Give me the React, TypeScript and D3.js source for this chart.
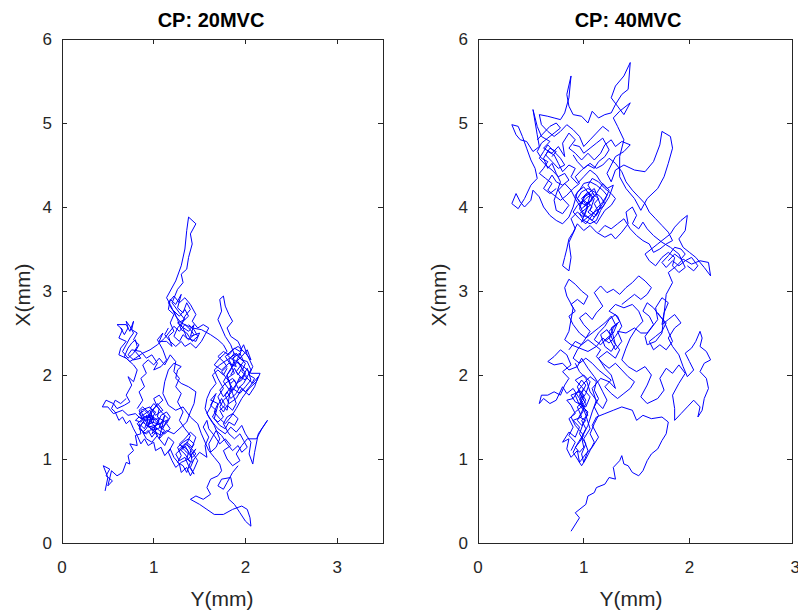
import React from "react";
import * as d3 from "d3";

// centre-of-pressure traces, [Y(mm), X(mm)]
const cp20Main: [number, number][] = [
  [0.47,0.62],[0.50,0.78],[0.45,0.92],[0.52,0.88],[0.48,0.80],[0.55,0.74],[0.50,0.68],[0.54,0.86],[0.60,0.80],[0.66,0.84],
  [0.70,0.96],[0.74,0.94],[0.72,1.04],[0.78,1.10],[0.74,1.18],[0.82,1.16],[0.80,1.28],[0.86,1.30],[0.84,1.42],[0.90,1.36],
  [0.94,1.48],[0.88,1.52],[0.96,1.58],[1.00,1.44],[0.92,1.40],[1.04,1.36],[0.98,1.30],[1.06,1.48],[0.90,1.46],[0.86,1.58],
  [0.96,1.62],[1.02,1.52],[1.10,1.58],[1.04,1.66],[0.98,1.56],[0.94,1.38],[1.08,1.42],[1.12,1.52],[1.06,1.24],[1.00,1.34],
  [0.88,1.44],[0.84,1.36],[0.92,1.30],[1.02,1.40],[1.14,1.46],[1.10,1.36],[0.98,1.50],[0.86,1.48],[0.80,1.54],[0.72,1.52],
  [0.66,1.58],[0.56,1.54],[0.50,1.62],[0.44,1.62],[0.48,1.70],[0.56,1.66],[0.60,1.60],[0.68,1.64],[0.74,1.68],[0.70,1.76],
  [0.76,1.88],[0.72,1.98],[0.78,1.92],[0.82,2.06],[0.78,2.12],[0.70,2.20],[0.62,2.24],[0.64,2.32],[0.70,2.40],[0.62,2.44],
  [0.66,2.54],[0.60,2.60],[0.70,2.60],[0.74,2.52],[0.78,2.64],[0.76,2.54],[0.82,2.50],[0.78,2.42],[0.84,2.36],[0.80,2.28],
  [0.86,2.20],[0.78,2.18],[0.72,2.24],[0.76,2.30],[0.86,2.28],[0.92,2.20],[0.98,2.24],[1.04,2.14],[1.00,2.06],[1.08,2.10],
  [1.14,2.18],[1.10,2.30],[1.04,2.42],[1.10,2.50],[1.06,2.40],[1.14,2.40],[1.20,2.34],[1.16,2.46],[1.22,2.52],[1.18,2.62],
  [1.22,2.72],[1.16,2.78],[1.18,2.90],[1.24,2.84],[1.30,2.96],[1.26,2.80],[1.32,2.74],[1.36,2.86],[1.40,2.78],[1.34,2.70],
  [1.30,2.58],[1.38,2.52],[1.44,2.60],[1.40,2.46],[1.50,2.50],[1.46,2.40],[1.36,2.44],[1.32,2.56],[1.26,2.62],[1.34,2.66],
  [1.28,2.74],[1.20,2.86],[1.26,3.02],[1.32,3.10],[1.30,3.20],[1.36,3.26],[1.38,3.40],[1.42,3.56],[1.40,3.68],[1.46,3.80],
  [1.38,3.88],[1.36,3.72],[1.34,3.50],[1.30,3.30],[1.24,3.12],[1.14,2.92],[1.18,2.84],[1.24,2.70],[1.30,2.62],[1.42,2.56],
  [1.52,2.54],[1.62,2.48],[1.70,2.42],
  [1.76,2.36],[1.80,2.28],[1.72,2.20],[1.66,2.12],[1.74,2.06],[1.82,2.14],[1.90,2.10],[1.86,2.20],[1.94,2.26],[1.98,2.16],
  [1.90,2.04],[1.96,1.96],[2.02,2.08],[2.06,1.94],[2.00,1.86],[1.94,1.78],[1.86,1.84],[1.80,1.96],[1.88,2.02],[1.84,2.12],
  [1.78,2.22],[1.86,2.30],[1.92,2.34],[2.00,2.26],[2.06,2.18],[2.02,2.30],[1.96,2.22],[1.88,2.14],[1.82,2.04],[1.76,1.92],
  [1.84,1.80],[1.92,1.92],[1.98,2.00],[2.08,1.90],[2.14,1.98],[2.10,1.86],[2.04,1.76],[1.96,1.84],[1.90,1.72],[1.82,1.66],
  [1.78,1.76],[1.84,1.86],[1.80,1.58],[1.74,1.64],[1.70,1.74],[1.76,1.84],[1.70,1.96],[1.66,2.06],[1.72,2.12],[1.80,2.18],
  [1.88,2.24],[1.84,2.36],[1.78,2.46],[1.74,2.56],[1.70,2.66],[1.74,2.76],[1.72,2.90],[1.76,2.94],[1.78,2.82],[1.82,2.72],
  [1.86,2.64],[1.80,2.56],[1.84,2.46],[1.92,2.40],[1.96,2.30],[1.90,2.16],[1.98,2.10],[2.06,2.02],[2.16,2.02],[2.12,1.92],
  [2.04,1.84],[1.96,1.72],[1.90,1.60],[1.84,1.50],[1.78,1.42],[1.72,1.48],[1.66,1.56],[1.70,1.66],[1.62,1.70],[1.68,1.78],
  [1.62,1.62],[1.58,1.54],[1.64,1.44],[1.70,1.36],[1.78,1.30],[1.84,1.38],[1.90,1.32],[1.96,1.40],[2.00,1.30],[2.06,1.20],
  [2.04,1.06],[2.08,0.94],[2.10,1.08],[2.14,1.30],[2.24,1.46],[2.18,1.36],[2.12,1.24],[2.02,1.24],[1.96,1.16],[1.90,1.06],
  [1.94,0.98],[1.86,0.92],[1.80,1.00],[1.76,1.10],[1.84,1.16],[1.78,1.24],[1.72,1.18],[1.66,1.28],[1.60,1.36],[1.58,1.46],
  [1.54,1.38],[1.60,1.26],[1.56,1.16],[1.58,1.02],
  [1.50,1.08],[1.44,1.00],[1.40,0.90],[1.44,0.82],[1.38,0.92],[1.34,1.02],[1.28,0.98],[1.24,1.06],[1.30,1.12],[1.36,1.20],
  [1.42,1.14],[1.46,1.26],[1.40,1.32],[1.34,1.24],[1.28,1.18],[1.34,1.10],[1.40,1.04],[1.46,1.12],[1.38,1.00],[1.30,0.96],
  [1.24,0.90],[1.20,0.98],[1.16,1.08],[1.22,1.20],[1.16,1.26],[1.12,1.16],[1.06,1.24],[1.14,1.34],[1.22,1.30],[1.30,1.38],
  [1.36,1.44],[1.40,1.56],[1.44,1.66],[1.46,1.80],[1.38,1.86],[1.30,1.90],[1.24,1.96],[1.26,2.06],[1.30,2.10],[1.22,2.14],
  [1.16,2.06],[1.12,1.92],[1.10,1.78],[1.16,1.64],[1.24,1.58],[1.32,1.62],[1.40,1.50],[1.48,1.42],[1.52,1.30],[1.56,1.20],
  [1.60,1.10],[1.66,1.02],[1.72,0.94],
  [1.74,0.86],[1.70,0.80],[1.62,0.76],[1.58,0.66],[1.62,0.58],[1.54,0.52],[1.46,0.56],[1.40,0.52],[1.50,0.46],[1.58,0.40],
  [1.66,0.34],[1.76,0.34],[1.86,0.40],[1.96,0.44],[2.02,0.40],[2.05,0.30],[2.06,0.20],[2.00,0.26],[1.94,0.36],[1.88,0.46],
  [1.82,0.52],[1.80,0.60],[1.86,0.68],[1.84,0.78],[1.74,0.76],[1.70,0.68],[1.76,0.64],[1.80,0.72],[1.86,0.84],[1.92,0.92],
];

const cp20ClusterA: [number, number][] = [
  [0.86,1.40],[0.90,1.46],[0.94,1.42],[0.92,1.52],[0.98,1.48],[1.02,1.56],[0.96,1.60],[1.00,1.66],[1.06,1.60],[1.04,1.50],
  [1.10,1.46],[1.06,1.38],[1.12,1.34],[1.08,1.28],[1.02,1.32],[0.98,1.26],[0.94,1.34],[0.90,1.30],[0.86,1.36],[0.82,1.42],
  [0.88,1.48],[0.84,1.54],[0.90,1.58],[0.94,1.54],[0.98,1.44],[1.04,1.42],[1.08,1.52],[1.14,1.56],[1.18,1.50],[1.14,1.42],
  [1.18,1.36],[1.12,1.30],[1.06,1.34],[1.00,1.40],[0.96,1.46],[0.92,1.36],[0.88,1.32],[0.92,1.24],[0.98,1.20],[1.04,1.28],
  [1.00,1.38],[1.06,1.44],[1.02,1.48],[0.96,1.52],[0.90,1.50],[0.86,1.44],[0.80,1.46],[0.84,1.50],[0.92,1.46],[0.98,1.58],
  [1.04,1.64],[1.10,1.70],[1.06,1.76],[1.00,1.72],[1.04,1.62],[1.10,1.54],[1.16,1.48],[1.12,1.40],[1.04,1.36],[0.98,1.34],
  [0.94,1.40],[1.00,1.50],[0.94,1.56],[0.88,1.62],[0.84,1.58],[0.90,1.42],
];

const cp20ClusterB: [number, number][] = [
  [1.84,2.00],[1.88,2.08],[1.92,2.00],[1.96,2.08],[1.92,2.16],[1.86,2.10],[1.82,2.18],[1.88,2.26],[1.94,2.20],[2.00,2.14],
  [1.96,2.04],[2.02,1.98],[1.98,1.90],[1.92,1.84],[1.88,1.94],[1.84,1.90],[1.78,1.98],[1.74,2.04],[1.80,2.10],[1.76,2.16],
  [1.70,2.22],[1.76,2.28],[1.82,2.24],[1.88,2.32],[1.94,2.28],[1.98,2.36],[2.02,2.24],[2.08,2.10],[2.04,2.00],[2.10,1.96],
  [2.06,1.88],[2.00,1.80],[1.94,1.86],[1.90,1.78],[1.84,1.72],[1.80,1.80],[1.76,1.74],[1.72,1.82],[1.78,1.90],[1.86,1.96],
  [1.90,1.90],[1.96,1.94],[2.00,2.02],[1.94,2.12],[1.88,2.18],[1.84,2.06],[1.80,2.00],[1.86,1.78],[1.90,1.66],[1.86,1.58],
  [1.80,1.64],[1.76,1.56],[1.72,1.62],[1.76,1.70],[1.82,1.76],[1.88,1.84],[1.94,1.98],[2.00,1.94],[2.06,2.06],[2.02,2.16],
  [1.96,2.18],[1.90,2.26],[1.86,2.18],[1.80,2.24],
];

const cp20Upper: [number, number][] = [
  [0.64,2.56],[0.68,2.48],[0.72,2.56],[0.70,2.64],[0.74,2.58],[0.78,2.50],[0.74,2.44],[0.70,2.36],[0.66,2.28],[0.72,2.20],
  [0.78,2.26],[0.82,2.34],[0.80,2.42],[0.76,2.38],[0.72,2.32],[0.68,2.22],[0.74,2.16],[0.80,2.20],[0.88,2.26],[0.96,2.30],
  [1.04,2.36],[1.12,2.44],[1.22,2.58],[1.28,2.52],[1.34,2.60],[1.40,2.54],[1.44,2.48],[1.38,2.42],[1.32,2.48],[1.28,2.40],
  [1.22,2.46],[1.26,2.56],[1.32,2.64],[1.38,2.70],[1.34,2.78],[1.28,2.70],[1.22,2.76],[1.26,2.66],[1.30,2.54],[1.36,2.50],
  [1.42,2.40],[1.48,2.46],[1.44,2.54],[1.38,2.60],
];

const cp20ClusterC: [number, number][] = [
  [1.30,1.10],[1.34,1.16],[1.38,1.08],[1.36,1.00],[1.42,0.96],[1.40,1.10],[1.44,1.18],[1.38,1.24],[1.32,1.20],[1.26,1.14],
  [1.30,1.04],[1.26,0.96],[1.32,0.92],[1.36,0.84],[1.40,0.96],[1.34,1.06],[1.28,1.12],[1.34,1.18],[1.40,1.14],[1.46,1.06],
  [1.42,1.02],[1.36,1.12],[1.30,1.16],
];

const cp20Wander1: [number, number][] = [
  [0.82,1.60],[0.88,1.70],[0.84,1.80],[0.90,1.86],[0.86,1.96],[0.92,2.02],[0.88,2.12],[0.94,2.18],[1.00,2.12],[1.06,2.20],
  [1.12,2.12],[1.18,2.24],[1.24,2.16],[1.22,2.04],[1.28,1.96],[1.24,1.86],[1.30,1.78],[1.26,1.68],[1.32,1.56],[1.28,1.46],
  [1.34,1.36],[1.40,1.28],[1.36,1.18],[1.42,1.08],[1.48,0.98],[1.44,0.88],[1.40,0.80],[1.36,0.90],[1.30,0.84],[1.28,0.94],
  [1.22,1.02],[1.18,1.12],[1.12,1.04],[1.08,1.14],[1.02,1.10],[1.00,1.20],[0.94,1.16],[0.90,1.24],[0.86,1.18],[0.82,1.28],
  [0.78,1.36],[0.74,1.46],[0.70,1.42],[0.66,1.50],[0.62,1.46],[0.58,1.56],[0.54,1.60],[0.58,1.70],[0.64,1.66],[0.70,1.72],
];

const cp20Wander2: [number, number][] = [
  [1.66,1.72],[1.62,1.64],[1.68,1.58],[1.64,1.50],[1.70,1.44],[1.76,1.50],[1.72,1.58],[1.78,1.64],[1.74,1.72],[1.70,1.64],
  [1.66,1.48],[1.72,1.40],[1.78,1.36],[1.82,1.44],[1.88,1.40],[1.92,1.48],[1.86,1.54],[1.80,1.50],[1.76,1.42],[1.82,1.30],
  [1.88,1.24],[1.94,1.30],[1.98,1.22],[2.02,1.14],[1.96,1.08],[1.92,1.16],[1.86,1.10],[1.80,1.18],[1.74,1.28],[1.68,1.34],
  [1.64,1.26],[1.60,1.18],[1.62,1.08],[1.68,1.14],[1.72,1.24],[1.66,1.40],[1.60,1.50],[1.56,1.60],[1.58,1.72],[1.62,1.82],
  [1.68,1.90],[1.64,2.00],[1.70,2.06],[1.76,2.00],[1.80,2.08],
];

const cp20Wander3: [number, number][] = [
  [1.16,2.56],[1.12,2.48],[1.18,2.40],[1.24,2.34],[1.30,2.40],[1.34,2.34],[1.40,2.38],[1.46,2.32],[1.52,2.40],[1.56,2.48],
  [1.60,2.56],[1.54,2.60],[1.48,2.56],[1.42,2.64],[1.46,2.72],[1.40,2.84],[1.34,2.92],[1.28,2.86],[1.22,2.94],[1.16,2.86],
  [1.20,2.78],[1.26,2.72],
];

const cp40Main: [number, number][] = [
  [0.88,0.14],[0.96,0.30],[0.92,0.36],[1.02,0.46],[1.04,0.56],[1.10,0.60],[1.12,0.66],[1.20,0.70],[1.24,0.78],[1.30,0.76],
  [1.28,0.90],[1.34,0.98],[1.36,1.04],[1.38,0.94],[1.42,0.92],[1.46,0.84],[1.52,0.80],[1.56,0.86],[1.60,0.98],[1.64,1.06],
  [1.70,1.12],[1.74,1.22],[1.78,1.30],[1.80,1.44],[1.74,1.50],[1.64,1.48],[1.56,1.52],[1.50,1.46],[1.46,1.58],[1.36,1.62],
  [1.28,1.58],[1.20,1.54],[1.12,1.50],[1.08,1.40],[1.14,1.26],[1.08,1.14],[1.02,1.06],[0.96,0.96],[0.94,1.10],[0.88,1.02],
  [0.84,1.12],[0.86,1.24],[0.80,1.20],[0.86,1.32],[0.92,1.26],[0.96,1.38],[0.90,1.46],[0.98,1.50],[0.94,1.62],[1.00,1.70],
  [0.96,1.80],[0.88,1.76],[0.92,1.68],[1.02,1.62],[1.06,1.74],[0.98,1.86],[0.92,1.94],[1.00,2.00],[1.06,1.92],[1.02,1.78],
  [0.96,1.66],[1.04,1.56],[1.00,1.44],[0.96,1.30],[1.02,1.18],[0.98,1.06],[1.00,0.96],[1.04,1.10],[1.00,1.24],[1.06,1.36],
  [1.02,1.52],[0.96,1.72],[0.90,1.84],[0.84,1.78],[0.80,1.86],[0.74,1.70],[0.68,1.66],[0.62,1.72],[0.58,1.66],[0.60,1.76],
  [0.66,1.76],[0.72,1.80],[0.78,1.76],[0.82,1.88],[0.86,1.96],[0.80,2.04],[0.88,2.12],[0.84,2.24],[0.78,2.30],[0.72,2.22],
  [0.66,2.16],[0.72,2.12],[0.80,2.14],[0.86,2.06],[0.94,2.10],[0.98,2.20],[1.04,2.08],[1.10,1.98],[1.14,1.90],[1.18,1.80],
  [1.22,1.70],[1.18,1.60],[1.12,1.68],[1.08,1.84],[1.16,1.96],[1.24,1.92],[1.30,1.84],[1.26,2.00],[1.20,2.08],[1.14,2.20],
  [1.22,2.28],[1.30,2.20],[1.34,2.30],[1.28,2.40],[1.24,2.52],[1.30,2.60],[1.26,2.70],[1.20,2.62],[1.14,2.56],[1.08,2.50],
  [1.02,2.44],[0.96,2.50],[0.90,2.60],[0.86,2.70],[0.92,2.76],[0.88,2.84],[0.94,2.90],[1.00,2.84],[1.04,2.94],[0.98,3.00],
  [0.92,3.08],[0.86,3.14],[0.82,3.04],[0.84,2.94],[0.90,2.80],[0.86,2.52],[0.82,2.42],[0.88,2.36],[0.96,2.32],[1.04,2.28],
  [1.12,2.34],[1.18,2.44],[1.24,2.38],[1.30,2.46],[1.36,2.58],[1.32,2.70],[1.24,2.76],[1.30,2.84],[1.38,2.80],[1.46,2.84],
  [1.52,2.76],[1.56,2.64],[1.50,2.56],[1.44,2.44],[1.40,2.32],[1.36,2.18],[1.42,2.10],[1.50,2.04],[1.58,2.10],[1.64,2.00],
  [1.60,1.88],[1.54,1.74],[1.60,1.66],[1.70,1.72],[1.76,1.82],[1.72,1.96],[1.78,2.08],[1.84,2.02],[1.90,2.12],[1.96,2.02],
  [1.90,1.90],[1.84,1.76],[1.86,1.60],[1.86,1.46],[1.92,1.54],[1.98,1.62],[2.04,1.70],[2.10,1.62],[2.08,1.50],[2.12,1.58],
  [2.14,1.72],[2.18,1.84],[2.16,1.96],[2.10,2.04],[2.14,2.14],[2.20,2.18],[2.16,2.28],[2.10,2.34],[2.12,2.44],[2.10,2.52],
  [2.06,2.40],[2.02,2.32],[1.96,2.26],[2.00,2.16],[2.04,2.06],[1.98,1.98],[1.94,2.10],[1.90,2.24],[1.84,2.34],[1.80,2.44],
  [1.86,2.56],[1.92,2.62],[1.86,2.72],[1.80,2.66],[1.74,2.60],[1.76,2.74],[1.80,2.86],[1.74,2.92],[1.68,2.80],[1.70,2.66],
  [1.64,2.56],[1.58,2.46],[1.60,2.36],[1.68,2.40],[1.74,2.50],[1.78,2.96],[1.84,3.10],[1.80,3.22],[1.88,3.30],[1.94,3.38],
  [2.02,3.32],[2.10,3.36],[2.18,3.34],[2.20,3.18],[2.14,3.28],[2.06,3.40],[2.00,3.46],[1.94,3.52],[1.90,3.62],[1.96,3.72],
  [1.98,3.90],[1.92,3.84],[1.86,3.76],[1.82,3.68],[1.76,3.62],[1.70,3.56],[1.64,3.50],[1.58,3.44],[1.62,3.36],[1.68,3.30],
  [1.74,3.40],[1.80,3.46],[1.86,3.40],[1.84,3.30],[1.90,3.22],[1.96,3.28],[1.90,3.44],[1.82,3.52],[1.74,3.58],[1.66,3.66],
  [1.60,3.74],[1.56,3.82],[1.52,3.74],[1.46,3.80],[1.50,3.90],[1.46,4.00],[1.40,3.94],[1.42,3.80],[1.36,3.70],[1.30,3.62],
  [1.26,3.68],[1.20,3.64],[1.12,3.70],[1.06,3.78],[1.00,3.72],[0.94,3.80],[0.90,3.70],[0.86,3.62],[0.84,3.50],[0.82,3.40],
  [0.80,3.30],[0.86,3.24],[0.88,3.40],[0.86,3.58],[0.92,3.74],[0.88,3.86],[0.94,3.94],[1.00,3.88],[1.04,4.00],[0.98,4.10],
  [1.04,4.18],[1.10,4.10],[1.06,3.96],[1.12,3.90],[1.16,4.02],[1.10,4.22],[1.02,4.14],[0.96,4.02],[1.00,3.92],[1.08,3.84],
  [1.14,3.96],[1.20,4.08],[1.24,4.20],[1.18,4.28],[1.12,4.16],[1.06,4.06],[0.98,3.98],[0.92,4.10],[0.88,4.20],[0.82,4.28],
  [0.76,4.20],[0.80,4.10],[0.86,4.02],[0.80,3.92],[0.74,3.96],[0.72,4.08],[0.78,4.30],[0.74,4.40],[0.70,4.52],[0.66,4.46],
  [0.62,4.58],[0.66,4.66],[0.72,4.62],[0.76,4.52],[0.80,4.42],[0.86,4.50],[0.92,4.46],[0.88,4.36],[0.94,4.28],[1.00,4.36],
  [1.06,4.44],[1.12,4.38],[1.16,4.30],[1.22,4.22],[1.28,4.26],[1.24,4.12],[1.18,4.00],[1.10,3.94],[1.04,3.88],[0.98,3.82],
  [1.02,3.96],[1.06,4.14],[1.00,4.24],[0.94,4.18],[0.90,4.00],[0.86,3.88],[0.80,3.80],[0.74,3.84],[0.68,3.90],[0.62,4.00],
  [0.58,4.12],[0.52,4.20],[0.50,4.08],[0.44,4.00],[0.40,4.06],[0.36,4.16],[0.32,4.04],[0.38,3.98],[0.44,4.10],[0.50,4.26],
  [0.56,4.34],[0.54,4.46],[0.50,4.56],[0.46,4.70],[0.42,4.84],[0.38,4.96],[0.32,4.98],[0.36,4.86],[0.40,4.80],[0.46,4.78],
  [0.52,4.66],[0.58,4.72],[0.56,4.86],[0.52,5.16],[0.56,4.96],[0.60,4.84],[0.68,4.78],[0.62,4.70],[0.70,4.64],[0.76,4.72],
  [0.82,4.60],[0.80,4.76],[0.86,4.88],[0.92,4.80],[0.86,4.70],[0.92,4.64],[0.98,4.56],[1.04,4.64],[1.10,4.56],[1.16,4.64],
  [1.20,4.74],[1.26,4.80],[1.30,4.72],[1.36,4.78],[1.44,4.74],[1.38,4.66],[1.30,4.60],[1.26,4.50],[1.22,4.40],[1.26,4.30],
  [1.30,4.44],[1.38,4.50],[1.48,4.44],[1.58,4.42],[1.66,4.54],[1.72,4.74],[1.74,4.90],[1.82,4.84],[1.84,4.70],[1.80,4.52],
  [1.76,4.36],[1.70,4.22],[1.60,4.10],[1.54,3.96],[1.48,4.10],[1.40,4.22],[1.34,4.36],[1.34,4.60],[1.38,4.80],[1.32,4.96],
  [1.28,5.06],[1.34,5.14],[1.40,5.20],[1.44,5.24],[1.38,5.10],[1.32,5.20],[1.26,5.30],[1.30,5.44],[1.38,5.56],[1.44,5.72],
  [1.42,5.40],[1.36,5.34],[1.30,5.22],[1.26,5.12],[1.20,5.10],[1.14,5.06],[1.08,5.14],[1.04,5.00],[0.98,5.08],[0.90,5.10],
  [0.86,5.20],[0.84,5.34],[0.88,5.56],[0.86,5.30],[0.82,5.12],[0.78,5.04],[0.72,5.06],[0.66,5.08],[0.58,5.10],[0.60,4.98],
  [0.66,4.90],[0.72,4.84],[0.78,4.90],[0.84,4.98],[0.90,4.92],[0.96,4.84],[1.00,4.72],[1.06,4.80],[1.12,4.88],[1.18,4.96],
  [1.24,4.90],
];

const cp40UpperCluster: [number, number][] = [
  [1.00,4.00],[1.04,4.06],[1.08,4.00],[1.04,3.94],[1.10,3.88],[1.14,3.94],[1.10,4.04],[1.14,4.10],[1.08,4.16],[1.02,4.10],
  [0.98,4.04],[0.94,4.10],[0.98,4.18],[1.04,4.22],[1.10,4.18],[1.16,4.12],[1.20,4.04],[1.16,3.96],[1.12,3.84],[1.06,3.80],
  [1.00,3.84],[0.96,3.92],[1.02,3.98],[1.06,4.02],[1.00,4.08],[0.94,4.02],[0.90,3.94],[0.96,3.86],[1.02,3.80],[1.08,3.90],
  [1.12,3.98],[1.18,4.06],[1.22,4.14],[1.18,4.20],[1.12,4.26],[1.06,4.30],[1.00,4.28],[0.96,4.20],[0.92,4.14],[0.96,4.06],
  [1.02,4.02],[1.08,4.08],[1.06,4.16],[1.00,4.12],[0.96,3.98],[1.00,3.90],[1.06,3.86],[1.12,3.80],[1.16,3.88],[1.20,3.96],
  [1.26,4.02],[1.30,4.10],[1.26,4.16],[1.20,4.22],[1.14,4.30],[1.08,4.34],[1.04,4.26],[1.10,4.14],[1.04,4.04],
];

const cp40UpperLeft: [number, number][] = [
  [0.70,4.60],[0.74,4.66],[0.68,4.70],[0.64,4.62],[0.70,4.54],[0.76,4.46],[0.82,4.50],[0.78,4.58],[0.72,4.66],[0.66,4.74],
  [0.62,4.66],[0.58,4.58],[0.64,4.50],[0.70,4.44],[0.76,4.36],[0.82,4.40],[0.86,4.32],[0.80,4.26],[0.74,4.30],[0.70,4.38],
  [0.66,4.30],[0.62,4.22],[0.68,4.16],[0.74,4.22],
];

const cp40Middle: [number, number][] = [
  [1.20,2.40],[1.26,2.46],[1.22,2.54],[1.16,2.48],[1.20,2.34],[1.26,2.28],[1.30,2.36],[1.26,2.56],[1.32,2.62],[1.28,2.50],
  [1.22,2.44],[1.16,2.36],[1.10,2.42],[1.14,2.50],[1.20,2.58],[1.24,2.66],[1.30,2.72],[1.34,2.64],[1.28,2.56],[1.24,2.44],
  [1.30,2.30],[1.36,2.40],[1.32,2.52],[1.40,2.50],[1.48,2.56],[1.54,2.50],[1.60,2.50],[1.66,2.60],[1.62,2.70],[1.56,2.76],
  [1.60,2.86],[1.66,2.80],[1.72,2.70],[1.78,2.62],[1.74,2.52],[1.68,2.46],[1.62,2.40],[1.66,2.30],[1.72,2.36],[1.78,2.30],
  [1.84,2.40],[1.80,2.52],[1.76,2.64],[1.70,2.74],
];

const cp40Lower: [number, number][] = [
  [0.96,1.70],[1.00,1.76],[0.96,1.82],[0.92,1.76],[0.96,1.64],[1.00,1.58],[0.96,1.50],[1.02,1.46],[0.98,1.40],[0.94,1.46],
  [0.98,1.56],[1.02,1.66],[0.98,1.74],[0.94,1.86],[0.98,1.94],[1.02,1.88],[0.98,1.78],[1.02,1.70],[0.98,1.62],[0.92,1.56],
  [0.88,1.50],[0.92,1.40],[0.96,1.34],[1.00,1.28],[0.96,1.20],[0.92,1.14],[0.96,1.08],[1.00,1.14],[0.98,1.26],[1.02,1.36],
  [0.98,1.46],[1.04,1.52],[1.00,1.62],[0.96,1.76],[1.00,1.84],
];

const cp40RightUpper: [number, number][] = [
  [1.80,3.36],[1.86,3.44],[1.92,3.38],[1.96,3.44],[1.92,3.50],[1.86,3.52],[1.80,3.42],[1.74,3.34],[1.78,3.28],[1.84,3.36],
  [1.90,3.30],[1.96,3.36],[2.02,3.40],[2.08,3.30],[2.04,3.24],[1.98,3.30],
];

const cp40Wander1: [number, number][] = [
  [1.14,3.70],[1.20,3.78],[1.26,3.74],[1.32,3.80],[1.38,3.86],[1.44,3.74],[1.50,3.66],[1.56,3.60],[1.62,3.56],[1.66,3.46],
  [1.72,3.50],[1.78,3.56],[1.84,3.60],[1.80,3.70],[1.74,3.78],[1.68,3.86],[1.62,3.94],[1.58,4.04],[1.52,4.12],[1.46,4.20],
  [1.40,4.30],[1.36,4.42],[1.30,4.52],[1.24,4.58],[1.18,4.50],[1.12,4.46],[1.06,4.52],[1.00,4.46],[0.94,4.54],[0.90,4.62],
];

const cp40Wander2: [number, number][] = [
  [0.86,2.30],[0.92,2.40],[0.98,2.36],[1.04,2.42],[1.10,2.36],[1.16,2.30],[1.12,2.22],[1.18,2.14],[1.24,2.08],[1.30,2.14],
  [1.36,2.06],[1.42,1.98],[1.48,1.92],[1.44,1.84],[1.38,1.78],[1.32,1.72],[1.26,1.78],[1.20,1.86],[1.26,1.94],[1.20,2.00],
  [1.14,2.06],[1.08,2.14],[1.02,2.20],[0.96,2.14],[0.90,2.20],[0.94,2.30],[1.00,2.40],[1.06,2.52],[1.00,2.60],[0.96,2.68],
  [1.02,2.74],[1.08,2.66],[1.12,2.74],[1.18,2.82],[1.14,2.90],[1.10,2.98],[1.16,3.06],[1.22,2.98],[1.28,3.02],[1.34,2.96],
  [1.40,3.04],[1.46,3.10],[1.52,3.18],[1.58,3.12],[1.64,3.04],[1.60,2.96],[1.54,2.90],[1.48,2.96],[1.42,2.90],[1.36,2.84],
];

const cp40Wander3: [number, number][] = [
  [0.88,1.10],[0.92,1.20],[0.86,1.28],[0.90,1.38],[0.86,1.48],[0.92,1.54],[0.88,1.64],[0.84,1.70],[0.90,1.72],[0.94,1.80],
  [1.00,1.90],[1.06,1.98],[1.12,1.92],[1.10,1.82],[1.14,1.72],[1.10,1.62],[1.14,1.52],[1.10,1.42],[1.06,1.30],[1.10,1.20],
  [1.06,1.10],[1.02,1.00],[0.98,0.92],[0.94,1.00],[0.90,1.08],[0.94,1.18],[1.00,1.30],[1.04,1.40],[1.08,1.56],[1.12,1.70],
  [1.06,1.80],[1.02,1.96],[0.96,2.04],[0.92,2.14],
];

const cp40Wander4: [number, number][] = [
  [0.56,4.80],[0.62,4.88],[0.68,4.96],[0.74,5.00],[0.78,4.94],[0.72,4.88],[0.66,4.82],[0.60,4.76],[0.56,4.66],[0.60,4.58],
  [0.66,4.54],[0.62,4.46],[0.58,4.40],[0.64,4.34],[0.70,4.28],[0.66,4.20],[0.72,4.14],[0.78,4.08],[0.84,4.14],[0.90,4.22],
  [0.96,4.28],[0.92,4.36],[0.98,4.44],[1.04,4.50],[1.10,4.46],[1.14,4.54],[1.20,4.60],[1.24,4.68],[1.18,4.82],[1.12,4.76],
  [1.06,4.70],[1.00,4.64],[0.96,4.72],[0.90,4.74],
];

const traces = [
  [cp20Main, cp20ClusterA, cp20ClusterB, cp20Upper, cp20ClusterC, cp20Wander1, cp20Wander2, cp20Wander3],
  [cp40Main, cp40UpperCluster, cp40UpperLeft, cp40Middle, cp40Lower, cp40RightUpper,
    cp40Wander1, cp40Wander2, cp40Wander3, cp40Wander4],
];
const titles = ["CP: 20MVC", "CP: 40MVC"];
const xTicks = [0, 1, 2, 3];
const yTicks = [0, 1, 2, 3, 4, 5, 6];
const xLimits = [3.5, 2.97];

const FONT = "'Liberation Sans', Arial, Helvetica, sans-serif";
const AX = "#262626";
const TICK = 5;

const panels = [
  { left: 62, right: 383, titleX: 211, labelX: 222 },
  { left: 478, right: 792, titleX: 628, labelX: 631 },
];

const Panel = ({ idx }: { idx: number }) => {
  const p = panels[idx];
  const top = 39;
  const bottom = 543;
  const x = d3.scaleLinear().domain([0, xLimits[idx]]).range([p.left, p.right]);
  const y = d3.scaleLinear().domain([0, 6]).range([bottom, top]);
  const line = d3
    .line<[number, number]>()
    .x((d) => x(d[0]))
    .y((d) => y(d[1]));
  const clipId = `clip${idx}`;

  return (
    <g>
      <defs>
        <clipPath id={clipId}>
          <rect x={p.left} y={top} width={p.right - p.left} height={bottom - top} />
        </clipPath>
      </defs>
      <g clipPath={`url(#${clipId})`}>
        {traces[idx].map((seg, i) => (
          <path
            key={i}
            d={line(seg) || ""}
            fill="none"
            stroke="#0000ff"
            strokeWidth={1}
            strokeLinejoin="miter"
          />
        ))}
      </g>
      <rect
        x={p.left}
        y={top}
        width={p.right - p.left}
        height={bottom - top}
        fill="none"
        stroke={AX}
        strokeWidth={1}
        shapeRendering="crispEdges"
      />
      {xTicks.map((t) => (
        <g key={"x" + t}>
          {t > 0 && t < xLimits[idx] && (
            <>
              <line x1={x(t)} x2={x(t)} y1={bottom} y2={bottom - TICK} stroke={AX} shapeRendering="crispEdges" />
              <line x1={x(t)} x2={x(t)} y1={top} y2={top + TICK} stroke={AX} shapeRendering="crispEdges" />
            </>
          )}
          <text x={x(t)} y={573} textAnchor="middle" fontSize={17} fill={AX} fontFamily={FONT}>
            {t}
          </text>
        </g>
      ))}
      {yTicks.map((t) => (
        <g key={"y" + t}>
          {t > 0 && t < 6 && (
            <>
              <line x1={p.left} x2={p.left + TICK} y1={y(t)} y2={y(t)} stroke={AX} shapeRendering="crispEdges" />
              <line x1={p.right} x2={p.right - TICK} y1={y(t)} y2={y(t)} stroke={AX} shapeRendering="crispEdges" />
            </>
          )}
          <text
            x={p.left - 10}
            y={y(t)}
            dy="0.36em"
            textAnchor="end"
            fontSize={17}
            fill={AX}
            fontFamily={FONT}
          >
            {t}
          </text>
        </g>
      ))}
      <text x={p.titleX} y={27} textAnchor="middle" fontSize={20} fontWeight="bold" fill="#000" fontFamily={FONT}>
        {titles[idx]}
      </text>
      <text x={p.labelX} y={606} textAnchor="middle" fontSize={21} fill={AX} fontFamily={FONT}>
        Y(mm)
      </text>
      <text
        transform={`translate(${p.left - 32},${(top + bottom) / 2 + 4}) rotate(-90)`}
        textAnchor="middle"
        fontSize={21}
        fill={AX}
        fontFamily={FONT}
      >
        X(mm)
      </text>
    </g>
  );
};

export default function App() {
  return (
    <svg
      width={798}
      height={612}
      style={{ position: "absolute", left: 0, top: 0, background: "#fff" }}
    >
      <rect width={798} height={612} fill="#fff" />
      <Panel idx={0} />
      <Panel idx={1} />
    </svg>
  );
}
